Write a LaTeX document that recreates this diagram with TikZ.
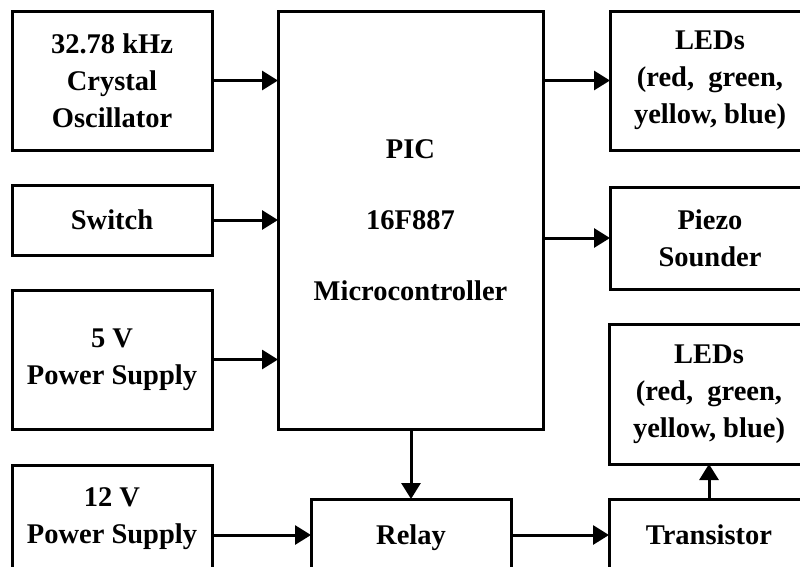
\documentclass[tikz,border=0pt]{standalone}
\usepackage{fontspec}
\setmainfont{Liberation Serif}
\usetikzlibrary{arrows.meta}
\tikzset{
  blk/.style={draw, line width=3pt, rectangle, inner sep=0pt, outer sep=0pt,
    align=center, font=\fontsize{28.5}{37}\selectfont\bfseries, minimum width=200pt},
  arr/.style={line width=3pt, -{Triangle[length=16pt,width=19pt]}}
}
\begin{document}
\begin{tikzpicture}[x=1pt,y=-1pt]
\path[use as bounding box, clip] (0,0) rectangle (800,566);
\fill[white] (0,0) rectangle (800,566);
\node[blk, minimum height=139pt] (crystal) at (112,80.5) {32.78 kHz\\Crystal\\Oscillator};
\node[blk, minimum height=70pt] (switch) at (112,220) {Switch};
\node[blk, minimum height=139pt] (fivev) at (112,359.5) {5 V\\Power Supply};
\node[blk, minimum height=107pt] (twelve) at (112,518.5) {12 V\\Power Supply};
\node[blk, minimum width=265pt, minimum height=418pt, font=\fontsize{28.5}{71}\selectfont\bfseries] (pic) at (410.5,220) {PIC\\16F887\\Microcontroller};
\node[blk, minimum height=72pt, text depth=0pt] (relay) at (411,535) {Relay};
\node[blk, minimum height=72pt] (trans) at (709,535) {Transistor};
\node[blk, minimum height=139pt] (ledsA) at (710,80.5) {LEDs\\(red,~~green,\\yellow, blue)};
\node[blk, minimum height=102pt] (piezo) at (710,238) {Piezo\\Sounder};
\node[blk, minimum height=140pt] (ledsB) at (709,394) {LEDs\\(red,~~green,\\yellow, blue)};
\draw[arr] (crystal.east) -- (crystal.east -| pic.west);
\draw[arr] (switch.east) -- (switch.east -| pic.west);
\draw[arr] (fivev.east) -- (fivev.east -| pic.west);
\draw[arr] (ledsA.west -| pic.east) -- (ledsA.west);
\draw[arr] (piezo.west -| pic.east) -- (piezo.west);
\draw[arr] (relay.north |- pic.south) -- (relay.north);
\draw[arr] (relay.west -| twelve.east) -- (relay.west);
\draw[arr] (relay.east) -- (trans.west);
\draw[arr] (trans.north) -- (ledsB.south);
\end{tikzpicture}
\end{document}
